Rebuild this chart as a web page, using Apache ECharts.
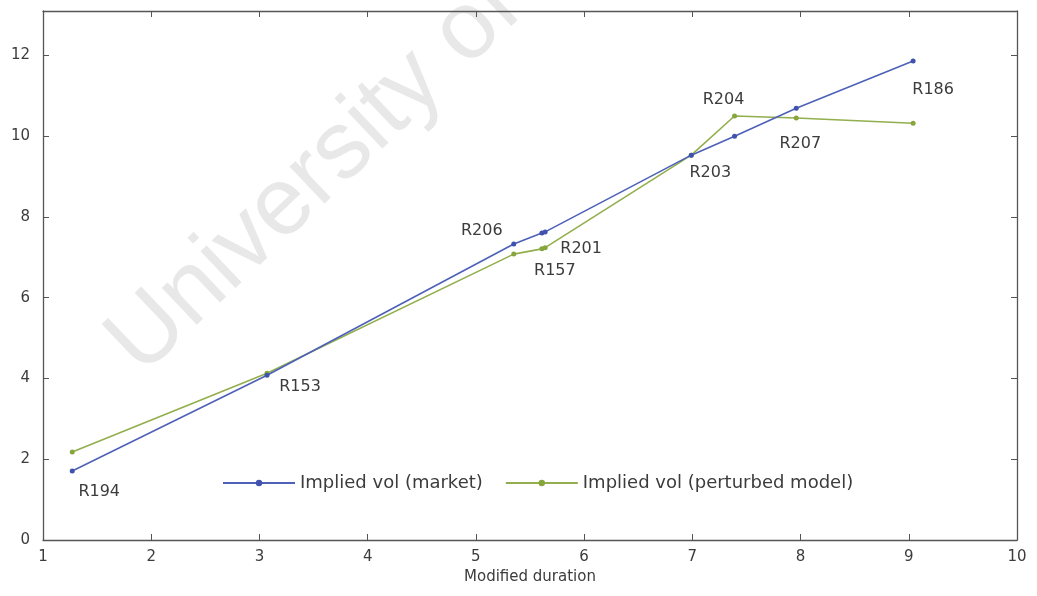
<!DOCTYPE html>
<html>
<head>
<meta charset="utf-8">
<title>Implied vol vs modified duration</title>
<script src="https://cdn.jsdelivr.net/npm/echarts@6/dist/echarts.min.js"></script>
<style>
  html, body { margin: 0; padding: 0; background: #ffffff; }
  #chart { width: 1037px; height: 596px; }
</style>
</head>
<body>
<div id="chart"></div>
<script>
// Bonds, their modified durations and implied vols (%)
const bonds = ['R194', 'R153', 'R206', 'R157', 'R201', 'R203', 'R204', 'R207', 'R186'];
const durations = [1.27, 3.07, 5.35, 5.61, 5.64, 6.99, 7.39, 7.96, 9.04];
const volMarket = [1.71, 4.08, 7.33, 7.60, 7.63, 9.53, 10.00, 10.69, 11.86];
const volPerturbed = [2.18, 4.13, 7.08, 7.21, 7.24, 9.53, 10.50, 10.45, 10.32];
const xTicks = [1, 2, 3, 4, 5, 6, 7, 8, 9, 10];
const yTicks = [0, 2, 4, 6, 8, 10, 12];
const seriesNames = ['Implied vol (market)', 'Implied vol (perturbed model)'];
const xTitle = 'Modified duration';

// Where each bond's name sits: which series it hangs on and its offset from the point
const labelPlacement = {
  R194: { s: 0, off: [27, 21] },
  R153: { s: 1, off: [33, 14] },
  R206: { s: 0, off: [-32, -13] },
  R157: { s: 1, off: [13, 22] },
  R201: { s: 1, off: [36, 1] },
  R203: { s: 1, off: [19, 18] },
  R204: { s: 1, off: [-11, -16] },
  R207: { s: 1, off: [4, 26] },
  R186: { s: 0, off: [20, 29] }
};

const FONT = '"DejaVu Sans", "Liberation Sans", Arial, sans-serif';
const TXT = '#3c3c3c';
const AX = '#555555';

function buildData(vals, seriesIdx) {
  return durations.map((d, i) => {
    const p = labelPlacement[bonds[i]];
    const item = { value: [d, vals[i]] };
    if (p && p.s === seriesIdx) {
      item.label = {
        show: true,
        formatter: bonds[i],
        position: 'inside',
        offset: p.off,
        color: TXT,
        fontSize: 16,
        fontFamily: FONT
      };
    }
    return item;
  });
}

const chart = echarts.init(document.getElementById('chart'), null, { renderer: 'canvas' });

const xMin = xTicks[0], xMax = xTicks[xTicks.length - 1];
const yMin = yTicks[0];

chart.setOption({
  backgroundColor: '#ffffff',
  animation: false,
  graphic: [{
    type: 'text',
    z: -10,
    x: 315,
    y: 176,
    rotation: 0.76,
    style: {
      text: 'University of',
      fill: '#e8e8e8',
      font: '96px "Liberation Sans", Arial, sans-serif',
      align: 'center',
      verticalAlign: 'middle'
    }
  }],
  grid: { left: 43, right: 20, top: 11, bottom: 56, containLabel: false },
  legend: {
    left: 217,
    top: 469,
    itemWidth: 72,
    itemHeight: 8,
    itemGap: 22,
    textStyle: { color: TXT, fontSize: 18, fontFamily: FONT },
    data: seriesNames
  },
  xAxis: [{
    type: 'value',
    min: xMin,
    max: xMax,
    interval: 1,
    name: xTitle,
    nameLocation: 'middle',
    nameGap: 30,
    nameTextStyle: { color: TXT, fontSize: 15, fontFamily: FONT },
    axisLine: { show: true, onZero: false, lineStyle: { color: AX, width: 1.3 } },
    axisTick: { show: true, inside: true, length: 6, lineStyle: { color: AX } },
    axisLabel: { color: TXT, fontSize: 15, fontFamily: FONT, margin: 10 },
    splitLine: { show: false }
  }, {
    type: 'value',
    position: 'top',
    min: xMin,
    max: xMax,
    interval: 1,
    axisLine: { show: true, onZero: false, lineStyle: { color: AX, width: 1.3 } },
    axisTick: { show: true, inside: true, length: 6, lineStyle: { color: AX } },
    axisLabel: { show: false },
    splitLine: { show: false }
  }],
  yAxis: [{
    type: 'value',
    min: yMin,
    max: 13.1,
    interval: 2,
    axisLine: { show: true, onZero: false, lineStyle: { color: AX, width: 1.3 } },
    axisTick: { show: true, inside: true, length: 6, lineStyle: { color: AX } },
    axisLabel: { color: TXT, fontSize: 15, fontFamily: FONT, margin: 13, showMaxLabel: false },
    splitLine: { show: false }
  }, {
    type: 'value',
    position: 'right',
    min: yMin,
    max: 13.1,
    interval: 2,
    axisLine: { show: true, onZero: false, lineStyle: { color: AX, width: 1.3 } },
    axisTick: { show: true, inside: true, length: 6, lineStyle: { color: AX } },
    axisLabel: { show: false },
    splitLine: { show: false }
  }],
  series: [{
    name: seriesNames[0],
    type: 'line',
    xAxisIndex: 0,
    yAxisIndex: 0,
    data: buildData(volMarket, 0),
    symbol: 'circle',
    symbolSize: 5,
    lineStyle: { color: '#4d61b8', width: 1.6 },
    itemStyle: { color: '#3f52ad' },
    emphasis: { disabled: true },
    z: 3
  }, {
    name: seriesNames[1],
    type: 'line',
    xAxisIndex: 0,
    yAxisIndex: 0,
    data: buildData(volPerturbed, 1),
    symbol: 'circle',
    symbolSize: 5,
    lineStyle: { color: '#93ae4c', width: 1.6 },
    itemStyle: { color: '#86a63c' },
    emphasis: { disabled: true },
    z: 2
  }]
});
</script>
</body>
</html>
